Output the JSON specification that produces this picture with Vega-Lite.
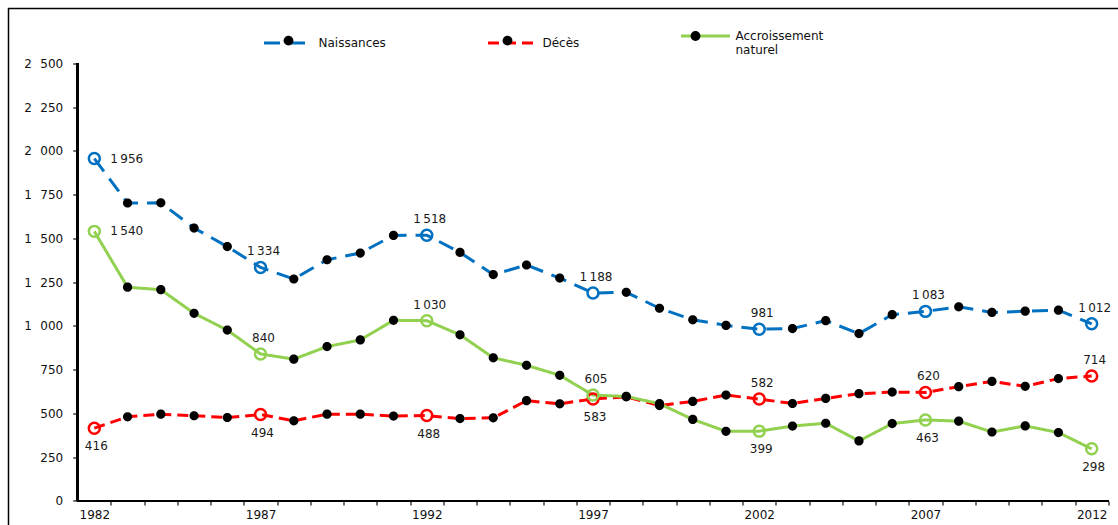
{
  "$schema": "https://vega.github.io/schema/vega-lite/v6.json",
  "width": 1109.5,
  "height": 516.5,
  "autosize": {"type": "none"},
  "padding": {"left": 8.5, "top": 8.5, "right": 0, "bottom": 0},
  "background": "white",
  "config": {
    "locale": {"number": {"decimal": ",", "thousands": "\u2009", "grouping": [3], "currency": ["", " €"]}},
    "view": {"stroke": "#000", "strokeWidth": 1.5, "strokeDash": [1109.5, 1626, 516.5]},
    "font": "DejaVu Sans",
    "axis": {"labelFont": "DejaVu Sans", "labelFontSize": 12, "labelColor": "#111", "tickColor": "#111", "grid": false, "domain": false},
    "legend": {"labelFont": "DejaVu Sans", "labelFontSize": 12, "labelColor": "#111", "symbolSize": 2401, "padding": 0, "labelOffset": 4, "columnPadding": 95}
  },
  "data": {
    "values": [
      {"year": 1982, "serie": "Naissances", "value": 1956}, {"year": 1983, "serie": "Naissances", "value": 1702}, {"year": 1984, "serie": "Naissances", "value": 1703}, {"year": 1985, "serie": "Naissances", "value": 1559}, {"year": 1986, "serie": "Naissances", "value": 1453}, {"year": 1987, "serie": "Naissances", "value": 1334}, {"year": 1988, "serie": "Naissances", "value": 1268}, {"year": 1989, "serie": "Naissances", "value": 1378}, {"year": 1990, "serie": "Naissances", "value": 1416}, {"year": 1991, "serie": "Naissances", "value": 1517}, {"year": 1992, "serie": "Naissances", "value": 1518}, {"year": 1993, "serie": "Naissances", "value": 1420}, {"year": 1994, "serie": "Naissances", "value": 1293}, {"year": 1995, "serie": "Naissances", "value": 1348}, {"year": 1996, "serie": "Naissances", "value": 1273}, {"year": 1997, "serie": "Naissances", "value": 1188}, {"year": 1998, "serie": "Naissances", "value": 1192}, {"year": 1999, "serie": "Naissances", "value": 1101}, {"year": 2000, "serie": "Naissances", "value": 1035}, {"year": 2001, "serie": "Naissances", "value": 1003}, {"year": 2002, "serie": "Naissances", "value": 981}, {"year": 2003, "serie": "Naissances", "value": 985}, {"year": 2004, "serie": "Naissances", "value": 1030}, {"year": 2005, "serie": "Naissances", "value": 956}, {"year": 2006, "serie": "Naissances", "value": 1064}, {"year": 2007, "serie": "Naissances", "value": 1083}, {"year": 2008, "serie": "Naissances", "value": 1109}, {"year": 2009, "serie": "Naissances", "value": 1077}, {"year": 2010, "serie": "Naissances", "value": 1084}, {"year": 2011, "serie": "Naissances", "value": 1090}, {"year": 2012, "serie": "Naissances", "value": 1012},
      {"year": 1982, "serie": "Décès", "value": 416}, {"year": 1983, "serie": "Décès", "value": 481}, {"year": 1984, "serie": "Décès", "value": 496}, {"year": 1985, "serie": "Décès", "value": 487}, {"year": 1986, "serie": "Décès", "value": 477}, {"year": 1987, "serie": "Décès", "value": 494}, {"year": 1988, "serie": "Décès", "value": 458}, {"year": 1989, "serie": "Décès", "value": 496}, {"year": 1990, "serie": "Décès", "value": 496}, {"year": 1991, "serie": "Décès", "value": 485}, {"year": 1992, "serie": "Décès", "value": 488}, {"year": 1993, "serie": "Décès", "value": 471}, {"year": 1994, "serie": "Décès", "value": 475}, {"year": 1995, "serie": "Décès", "value": 573}, {"year": 1996, "serie": "Décès", "value": 555}, {"year": 1997, "serie": "Décès", "value": 583}, {"year": 1998, "serie": "Décès", "value": 595}, {"year": 1999, "serie": "Décès", "value": 545}, {"year": 2000, "serie": "Décès", "value": 569}, {"year": 2001, "serie": "Décès", "value": 605}, {"year": 2002, "serie": "Décès", "value": 582}, {"year": 2003, "serie": "Décès", "value": 557}, {"year": 2004, "serie": "Décès", "value": 586}, {"year": 2005, "serie": "Décès", "value": 613}, {"year": 2006, "serie": "Décès", "value": 622}, {"year": 2007, "serie": "Décès", "value": 620}, {"year": 2008, "serie": "Décès", "value": 653}, {"year": 2009, "serie": "Décès", "value": 683}, {"year": 2010, "serie": "Décès", "value": 655}, {"year": 2011, "serie": "Décès", "value": 699}, {"year": 2012, "serie": "Décès", "value": 714},
      {"year": 1982, "serie": "Accroissement naturel", "value": 1540}, {"year": 1983, "serie": "Accroissement naturel", "value": 1221}, {"year": 1984, "serie": "Accroissement naturel", "value": 1207}, {"year": 1985, "serie": "Accroissement naturel", "value": 1072}, {"year": 1986, "serie": "Accroissement naturel", "value": 976}, {"year": 1987, "serie": "Accroissement naturel", "value": 840}, {"year": 1988, "serie": "Accroissement naturel", "value": 810}, {"year": 1989, "serie": "Accroissement naturel", "value": 882}, {"year": 1990, "serie": "Accroissement naturel", "value": 920}, {"year": 1991, "serie": "Accroissement naturel", "value": 1032}, {"year": 1992, "serie": "Accroissement naturel", "value": 1030}, {"year": 1993, "serie": "Accroissement naturel", "value": 949}, {"year": 1994, "serie": "Accroissement naturel", "value": 818}, {"year": 1995, "serie": "Accroissement naturel", "value": 775}, {"year": 1996, "serie": "Accroissement naturel", "value": 718}, {"year": 1997, "serie": "Accroissement naturel", "value": 605}, {"year": 1998, "serie": "Accroissement naturel", "value": 597}, {"year": 1999, "serie": "Accroissement naturel", "value": 556}, {"year": 2000, "serie": "Accroissement naturel", "value": 466}, {"year": 2001, "serie": "Accroissement naturel", "value": 398}, {"year": 2002, "serie": "Accroissement naturel", "value": 399}, {"year": 2003, "serie": "Accroissement naturel", "value": 428}, {"year": 2004, "serie": "Accroissement naturel", "value": 444}, {"year": 2005, "serie": "Accroissement naturel", "value": 343}, {"year": 2006, "serie": "Accroissement naturel", "value": 442}, {"year": 2007, "serie": "Accroissement naturel", "value": 463}, {"year": 2008, "serie": "Accroissement naturel", "value": 456}, {"year": 2009, "serie": "Accroissement naturel", "value": 394}, {"year": 2010, "serie": "Accroissement naturel", "value": 429}, {"year": 2011, "serie": "Accroissement naturel", "value": 391}, {"year": 2012, "serie": "Accroissement naturel", "value": 298}
    ]
  },
  "encoding": {
    "x": {
      "field": "year", "type": "quantitative",
      "scale": {"domain": [1979.41848, 2012.79188], "nice": false, "zero": false},
      "axis": {
        "title": null, "orient": "bottom", "offset": -24,
        "values": [1982,1983,1984,1985,1986,1987,1988,1989,1990,1991,1992,1993,1994,1995,1996,1997,1998,1999,2000,2001,2002,2003,2004,2005,2006,2007,2008,2009,2010,2011,2012],
        "format": "d",
        "labelExpr": "(datum.value - 1982) % 5 == 0 ? datum.label : ''",
        "tickOffset": 16.62, "labelOffset": -16.62,
        "tickSize": 4, "tickWidth": 1.2, "labelPadding": 4, "labelFlush": false, "labelOverlap": false
      }
    },
    "y": {
      "field": "value", "type": "quantitative",
      "scale": {"domain": [-137.08, 2812.9], "nice": false, "zero": false},
      "axis": {
        "title": null, "orient": "left", "offset": -69.2,
        "values": [0, 250, 500, 750, 1000, 1250, 1500, 1750, 2000, 2250, 2500],
        "format": ",d",
        "labelExpr": "replace(datum.label, '\u2009', '\u2002\u2009')",
        "tickSize": 5, "tickWidth": 1.2, "labelPadding": 10
      }
    }
  },
  "layer": [
    {
      "mark": {"type": "line", "strokeWidth": 3},
      "encoding": {
        "stroke": {
          "field": "serie", "type": "nominal",
          "scale": {"domain": ["Naissances", "Décès", "Accroissement naturel"], "range": ["#0070C0", "#FF0000", "#92D050"]},
          "legend": {
            "orient": "none", "legendX": 254, "legendY": 1.5, "direction": "horizontal", "title": null,
            "symbolType": "M-1,0H1", "symbolStrokeWidth": 3,
            "labelExpr": "datum.value == 'Accroissement naturel' ? ['Accroissement', 'naturel'] : datum.label",
            "encode": {"labels": {"dy": {"value": {"expr": "datum.value == 'Accroissement naturel' ? 7 : 0"}}}}
          }
        },
        "strokeDash": {
          "field": "serie", "type": "nominal",
          "scale": {"domain": ["Naissances", "Décès", "Accroissement naturel"], "range": [[16, 9], [11, 6], [1, 0]]},
          "legend": {
            "orient": "none", "legendX": 254, "legendY": 1.5, "direction": "horizontal", "title": null,
            "symbolType": "M-1,0H1", "symbolStrokeWidth": 3,
            "labelExpr": "datum.value == 'Accroissement naturel' ? ['Accroissement', 'naturel'] : datum.label",
            "encode": {"labels": {"dy": {"value": {"expr": "datum.value == 'Accroissement naturel' ? 7 : 0"}}}}
          }
        }
      }
    },
    {
      "transform": [{"filter": "(datum.year - 1982) % 5 != 0"}],
      "mark": {"type": "point", "filled": true, "color": "#000", "size": 2116, "opacity": 1},
      "encoding": {
        "shape": {
          "field": "serie", "type": "nominal",
          "sort": ["Naissances", "Décès", "Accroissement naturel"],
          "scale": {"range": ["M0.2,0A0.2,0.2,0,1,1,-0.2,0A0.2,0.2,0,1,1,0.2,0Z", "M0.2,0A0.2,0.2,0,1,1,-0.2,0A0.2,0.2,0,1,1,0.2,0Z", "M0.2,0A0.2,0.2,0,1,1,-0.2,0A0.2,0.2,0,1,1,0.2,0Z"]},
          "legend": {
            "orient": "none", "legendX": 254, "legendY": 1.5, "direction": "horizontal", "title": null,
            "symbolStrokeWidth": 3, "symbolStrokeColor": "#000", "symbolFillColor": "#000", "labelColor": "rgba(0,0,0,0)",
            "labelExpr": "datum.value == 'Accroissement naturel' ? ['Accroissement', 'naturel'] : datum.label",
            "encode": {
              "symbols": {"size": {"value": 2401}, "shape": {"value": "M0.12,0A0.12,0.12,0,1,1,-0.12,0A0.12,0.12,0,1,1,0.12,0Z"}},
              "labels": {"dy": {"value": {"expr": "datum.value == 'Accroissement naturel' ? 7 : 0"}}}
            }
          }
        }
      }
    },
    {
      "transform": [{"filter": "(datum.year - 1982) % 5 == 0"}],
      "mark": {"type": "point", "filled": false, "shape": "circle", "size": 120, "strokeWidth": 2.5, "opacity": 1},
      "encoding": {
        "color": {
          "field": "serie", "type": "nominal",
          "scale": {"domain": ["Naissances", "Décès", "Accroissement naturel"], "range": ["#0070C0", "#FF0000", "#92D050"]},
          "legend": null
        }
      }
    },
    {
      "transform": [{"filter": "datum.year == 1982 && datum.serie != 'Décès'"}],
      "mark": {"type": "text", "font": "DejaVu Sans", "fontSize": 12, "color": "#1a1a1a", "align": "left", "baseline": "middle", "dx": 16},
      "encoding": {"text": {"field": "value", "type": "quantitative", "format": ","}}
    },
    {
      "transform": [{"filter": "(datum.year - 1982) % 5 == 0 && datum.year != 1982 && (datum.serie == 'Naissances' || (datum.serie == 'Décès' && datum.year >= 2002) || (datum.serie == 'Accroissement naturel' && datum.year <= 1997))"}],
      "mark": {"type": "text", "font": "DejaVu Sans", "fontSize": 12, "color": "#1a1a1a", "align": "center", "baseline": "middle", "dy": -16, "dx": 3},
      "encoding": {"text": {"field": "value", "type": "quantitative", "format": ","}}
    },
    {
      "transform": [{"filter": "(datum.year - 1982) % 5 == 0 && ((datum.serie == 'Décès' && datum.year <= 1997) || (datum.serie == 'Accroissement naturel' && datum.year >= 2002))"}],
      "mark": {"type": "text", "font": "DejaVu Sans", "fontSize": 12, "color": "#1a1a1a", "align": "center", "baseline": "middle", "dy": 18, "dx": 2},
      "encoding": {"text": {"field": "value", "type": "quantitative", "format": ","}}
    },
    {
      "mark": {"type": "rule", "color": "#000", "strokeWidth": 1.5},
      "encoding": {
        "x": {"datum": 1981.5},
        "y": {"datum": 0},
        "y2": {"datum": 2500}
      }
    },
    {
      "mark": {"type": "rule", "color": "#000", "strokeWidth": 1.5},
      "encoding": {
        "x": {"datum": 1981.5},
        "x2": {"datum": 2012.5},
        "y": {"datum": 0}
      }
    }
  ]
}
